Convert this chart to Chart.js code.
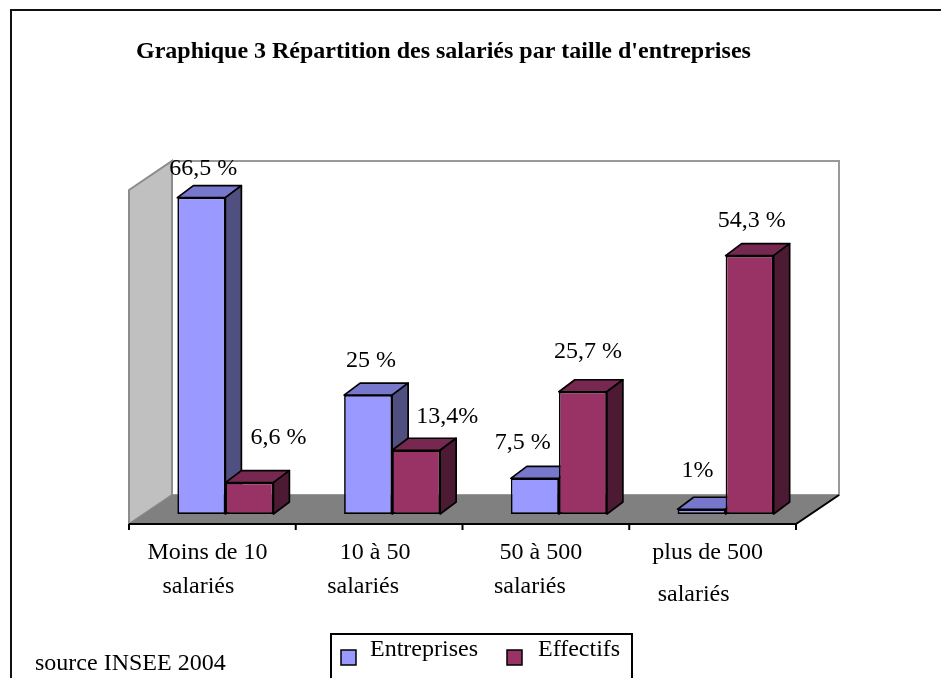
<!DOCTYPE html>
<html lang="fr">
<head>
<meta charset="utf-8">
<title>Graphique 3</title>
<script src="https://cdn.jsdelivr.net/npm/chart.js@4"></script>
<style>
    html, body { margin: 0; padding: 0; background: #fff; overflow: hidden; }
    canvas { display: block; }
</style>
</head>
<body>
<canvas id="chart" width="941" height="678"></canvas>
<script>
// Data
const categories = [['Moins de 10', 'salariés'], ['10 à 50', 'salariés'], ['50 à 500', 'salariés'], ['plus de 500', 'salariés']];
const entreprises = [66.5, 25, 7.5, 1];
const effectifs = [6.6, 13.4, 25.7, 54.3];
const entreprisesLabels = ['66,5 %', '25 %', '7,5 %', '1%'];
const effectifsLabels = ['6,6 %', '13,4%', '25,7 %', '54,3 %'];
const chartTitle = "Graphique 3 Répartition des salariés par taille d'entreprises";
const sourceText = 'source INSEE 2004';

const SERIF = "'Liberation Serif', 'Times New Roman', serif";
const TEXT_FONT = '24px ' + SERIF;

// depth of the fake 3D box and of the bars
const WALL_DX = 43, WALL_DY = 29;
const BAR_DX = 16, BAR_DY = 12;
const BAR_LINE = 1.7;

// hand placement of the value labels, relative to the top of each bar
const labelNudge = [
    [[2, -23], [3, -28], [-12, -29], [-4, -32]],
    [[29, -39], [31, -27], [5, -34], [2, -29]]
];
// hand placement of the category lines, relative to the category centre
const tickNudge = [[-18, -17, -18, -18], [-27, -29, -29, -32]];
const tickLineY = [[559, 559, 559, 559], [593, 593, 593, 601]];

const faceColors = [
    { top: '#7777cc', side: '#4f4f80' },
    { top: '#772850', side: '#4d1a33' }
];

function poly(ctx, pts, fill, stroke, width) {
    ctx.beginPath();
    pts.forEach((p, i) => i ? ctx.lineTo(p[0], p[1]) : ctx.moveTo(p[0], p[1]));
    ctx.closePath();
    if (fill) { ctx.fillStyle = fill; ctx.fill(); }
    if (stroke) { ctx.strokeStyle = stroke; ctx.lineWidth = width; ctx.stroke(); }
}

function text(ctx, str, x, y, font, align) {
    ctx.font = font;
    ctx.fillStyle = '#000';
    ctx.textAlign = align || 'left';
    ctx.textBaseline = 'alphabetic';
    ctx.fillText(str, x, y);
}

const box3d = {
    id: 'box3d',
    beforeDraw(chart) {
        const { ctx, chartArea: a, scales: { x } } = chart;
        const left = a.left - 13, right = a.right - 13, front = a.bottom + 10;
        const top = 190;
        ctx.save();
        ctx.fillStyle = '#fff';
        ctx.fillRect(0, 0, chart.width, chart.height);

        // outer frame, runs off the bottom of the page
        ctx.strokeStyle = '#111';
        ctx.lineWidth = 2;
        ctx.strokeRect(11, 10, 960, 720);

        // back wall, side wall, floor
        poly(ctx, [[left + WALL_DX, top - WALL_DY], [right + WALL_DX, top - WALL_DY], [right + WALL_DX, front - WALL_DY], [left + WALL_DX, front - WALL_DY]], '#fff', '#999', 2);
        poly(ctx, [[left, top], [left + WALL_DX, top - WALL_DY], [left + WALL_DX, front - WALL_DY], [left, front]], '#c0c0c0', '#8c8c8c', 2);
        poly(ctx, [[left, front], [right, front], [right + WALL_DX, front - WALL_DY], [left + WALL_DX, front - WALL_DY]], '#808080');

        // front edge and right edge of the floor
        ctx.strokeStyle = '#000';
        ctx.lineWidth = 2;
        ctx.beginPath();
        ctx.moveTo(left, front);
        ctx.lineTo(right, front);
        ctx.lineTo(right + WALL_DX, front - WALL_DY);
        // ticks between categories
        const step = x.getPixelForValue(1) - x.getPixelForValue(0);
        for (let i = 0; i <= categories.length; i++) {
            ctx.moveTo(left + step * i, front);
            ctx.lineTo(left + step * i, front + 6);
        }
        ctx.stroke();
        ctx.restore();
    },
    // top and side faces go in first, Chart.js then paints the front faces over them
    beforeDatasetsDraw(chart) {
        const { ctx } = chart;
        ctx.save();
        ctx.lineJoin = 'round';
        faceColors.forEach((colors, ds) => {
            chart.getDatasetMeta(ds).data.forEach(bar => {
                const l = bar.x - bar.width / 2, r = bar.x + bar.width / 2;
                const t = bar.y, b = bar.base;
                poly(ctx, [[l, t], [l + BAR_DX, t - BAR_DY], [r + BAR_DX, t - BAR_DY], [r, t]], colors.top, '#000', BAR_LINE);
                poly(ctx, [[r, t], [r + BAR_DX, t - BAR_DY], [r + BAR_DX, b - BAR_DY], [r, b]], colors.side, '#000', BAR_LINE);
            });
        });
        ctx.restore();
    },
    afterDatasetsDraw(chart) {
        const { ctx, scales: { x } } = chart;
        ctx.save();

        text(ctx, chartTitle, 136, 58, 'bold 24px ' + SERIF);

        [entreprisesLabels, effectifsLabels].forEach((labels, ds) => {
            const meta = chart.getDatasetMeta(ds);
            labels.forEach((lab, i) => {
                const bar = meta.data[i];
                text(ctx, lab, bar.x + labelNudge[ds][i][0], bar.y + labelNudge[ds][i][1], TEXT_FONT, 'center');
            });
        });

        categories.forEach((lines, i) => {
            lines.forEach((line, n) => {
                text(ctx, line, x.getPixelForValue(i) + tickNudge[n][i], tickLineY[n][i], TEXT_FONT, 'center');
            });
        });

        text(ctx, sourceText, 35, 670, TEXT_FONT);

        // legend box, cut by the bottom of the page
        ctx.strokeStyle = '#000';
        ctx.lineWidth = 2;
        ctx.strokeRect(331, 634, 301, 60);
        const legendX = [[341, 370], [507, 538]];
        chart.data.datasets.forEach((d, i) => {
            poly(ctx, [[legendX[i][0], 650], [legendX[i][0] + 15, 650], [legendX[i][0] + 15, 665], [legendX[i][0], 665]], d.backgroundColor, '#000', 1.5);
            text(ctx, d.label, legendX[i][1], 656, TEXT_FONT);
        });
        ctx.restore();
    }
};

new Chart(document.getElementById('chart'), {
    type: 'bar',
    data: {
        labels: categories,
        datasets: [
            { label: 'Entreprises', data: entreprises, backgroundColor: '#9999ff' },
            { label: 'Effectifs', data: effectifs, backgroundColor: '#993366' }
        ]
    },
    options: {
        responsive: false,
        animation: false,
        layout: { padding: { left: 142, right: 132, top: 181, bottom: 164 } },
        categoryPercentage: 0.576,
        barPercentage: 1,
        borderColor: '#000',
        borderWidth: BAR_LINE,
        borderSkipped: false,
        plugins: { legend: { display: false }, title: { display: false }, tooltip: { enabled: false } },
        scales: {
            x: { display: false, offset: true },
            y: { display: false, min: 0, max: 70 }
        }
    },
    plugins: [box3d]
});
</script>
</body>
</html>
